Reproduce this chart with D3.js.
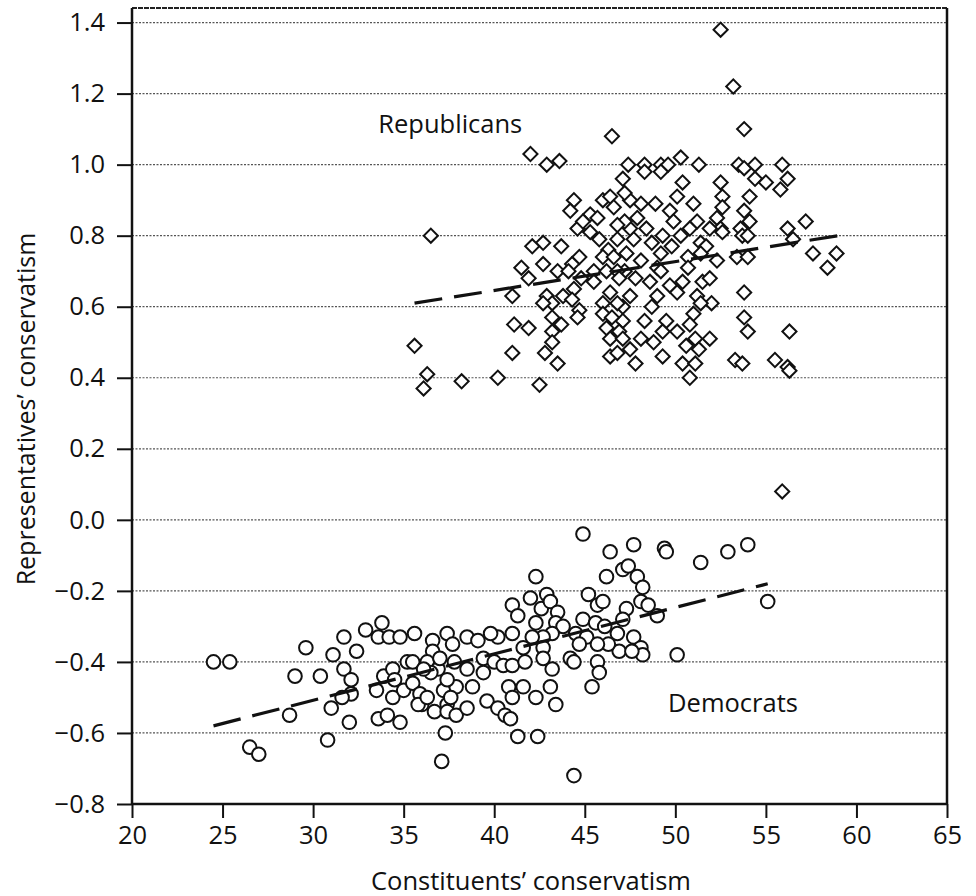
<!DOCTYPE html>
<head>
<meta charset="utf-8">
</head>
<style>
  body { margin: 0; background: #fff; }
  svg text { font-family: "Open Sans", sans-serif; fill: #111; }
  .axis text { font-size: 25.5px; }
  .axis line { stroke: #111; stroke-width: 2; }
  .axis path { display: none; }
  .grid line { stroke: #555; stroke-width: 1.2; stroke-dasharray: 2,1.5; }
</style>
<body>
<script src="https://d3js.org/d3.v7.min.js"></script>
<script>

var xTicks = [20, 25, 30, 35, 40, 45, 50, 55, 60, 65]
var yTicks = [-0.8, -0.6, -0.4, -0.2, 0.0, 0.2, 0.4, 0.6, 0.8, 1.0, 1.2, 1.4]

// [constituents' conservatism, representative's conservatism]
var republicans = [
  [52.5,1.38],[53.2,1.22],[53.8,1.10],[46.5,1.08],[42.0,1.03],[42.9,1.00],[43.6,1.01],[47.4,1.00],
  [48.3,1.00],[49.2,1.00],[49.6,1.00],[50.3,1.02],[51.3,1.00],[53.5,1.00],[53.8,0.99],[54.4,1.00],
  [55.9,1.00],[48.3,0.98],[49.2,0.98],[50.4,0.95],[52.5,0.95],[54.4,0.96],[55.0,0.95],[56.2,0.96],
  [55.8,0.93],[50.1,0.91],[52.6,0.91],[54.1,0.91],[48.9,0.89],[51.0,0.89],[48.1,0.89],[47.5,0.90],
  [47.2,0.92],[47.1,0.96],[49.7,0.87],[52.6,0.88],[53.8,0.87],[52.3,0.85],[49.9,0.84],[51.2,0.84],
  [54.1,0.84],[52.5,0.82],[53.6,0.82],[51.9,0.82],[57.2,0.84],[56.2,0.82],[56.5,0.79],[57.6,0.75],
  [58.9,0.75],[58.4,0.71],[49.3,0.80],[50.8,0.82],[51.4,0.78],[52.6,0.81],[53.7,0.80],[54.0,0.80],
  [51.7,0.77],[48.7,0.78],[50.3,0.80],[49.8,0.77],[53.4,0.74],[54.0,0.74],[52.3,0.73],[51.4,0.75],
  [50.7,0.74],[50.7,0.71],[49.0,0.71],[48.1,0.73],[47.3,0.75],[47.7,0.79],[47.5,0.82],[47.9,0.85],
  [47.2,0.84],[48.4,0.82],[49.2,0.75],[49.2,0.70],[48.6,0.67],[49.7,0.66],[50.4,0.67],[51.5,0.67],
  [51.9,0.68],[50.1,0.64],[51.2,0.63],[47.5,0.63],[49.0,0.63],[53.8,0.64],[52.0,0.61],[51.4,0.61],
  [48.7,0.60],[47.1,0.60],[47.8,0.68],[47.2,0.70],[53.8,0.57],[54.0,0.53],[56.3,0.53],[48.3,0.56],
  [49.5,0.56],[51.0,0.58],[50.8,0.55],[49.3,0.53],[50.1,0.53],[51.1,0.51],[51.9,0.51],[47.1,0.56],
  [46.9,0.53],[47.5,0.48],[48.8,0.50],[50.6,0.49],[51.3,0.48],[49.3,0.46],[50.4,0.44],[51.1,0.44],
  [50.8,0.40],[53.3,0.45],[53.7,0.44],[55.5,0.45],[56.2,0.43],[56.3,0.42],[48.1,0.51],[47.8,0.44],
  [44.4,0.90],[44.2,0.87],[46.0,0.90],[46.4,0.91],[46.6,0.88],[45.3,0.86],[45.7,0.85],[44.6,0.82],
  [44.9,0.84],[45.3,0.81],[46.8,0.83],[45.8,0.79],[46.8,0.79],[46.3,0.76],[46.0,0.74],[46.6,0.74],
  [44.7,0.74],[43.7,0.77],[42.7,0.78],[42.1,0.77],[41.5,0.71],[42.7,0.72],[44.3,0.72],[43.5,0.70],
  [41.9,0.68],[44.1,0.70],[45.5,0.70],[44.8,0.68],[46.2,0.70],[46.8,0.70],[46.9,0.68],[45.5,0.67],
  [44.4,0.65],[43.8,0.63],[42.9,0.63],[43.2,0.61],[42.7,0.61],[44.3,0.62],[46.0,0.61],[46.4,0.64],
  [46.8,0.61],[41.0,0.63],[44.7,0.59],[44.6,0.57],[43.2,0.57],[43.2,0.53],[43.7,0.55],[46.0,0.58],
  [46.5,0.57],[46.2,0.54],[41.1,0.55],[41.9,0.54],[46.4,0.51],[47.1,0.51],[43.2,0.50],[42.8,0.47],
  [43.5,0.44],[46.4,0.46],[46.8,0.47],[41.0,0.47],[35.6,0.49],[36.3,0.41],[36.1,0.37],[38.2,0.39],
  [40.2,0.40],[42.5,0.38],[36.5,0.80],[55.9,0.08]
]

var democrats = [
  [24.5,-0.40],[25.4,-0.40],[29.6,-0.36],[29.0,-0.44],[30.4,-0.44],[28.7,-0.55],[26.5,-0.64],[27.0,-0.66],
  [30.8,-0.62],[31.0,-0.53],[31.1,-0.38],[31.7,-0.33],[32.4,-0.37],[32.9,-0.31],[33.8,-0.29],[33.6,-0.33],
  [34.2,-0.33],[34.8,-0.33],[35.6,-0.32],[36.6,-0.34],[36.6,-0.37],[37.4,-0.32],[37.7,-0.35],[38.5,-0.33],
  [31.7,-0.42],[32.1,-0.45],[32.1,-0.49],[31.6,-0.50],[32.0,-0.57],[33.5,-0.48],[33.9,-0.44],[34.4,-0.42],
  [34.5,-0.45],[34.4,-0.50],[35.0,-0.48],[35.5,-0.46],[35.2,-0.40],[35.9,-0.49],[36.0,-0.52],[36.7,-0.54],
  [37.4,-0.52],[37.4,-0.54],[37.9,-0.55],[38.5,-0.53],[33.6,-0.56],[34.1,-0.55],[34.8,-0.57],[37.3,-0.60],
  [37.1,-0.68],[36.3,-0.40],[36.9,-0.42],[37.2,-0.48],[37.9,-0.47],[37.8,-0.40],[38.5,-0.42],[37.4,-0.45],
  [36.5,-0.43],[44.9,-0.04],[46.4,-0.09],[47.7,-0.07],[49.4,-0.08],[49.5,-0.09],[51.4,-0.12],[47.1,-0.14],
  [47.4,-0.13],[46.2,-0.16],[47.9,-0.16],[48.2,-0.19],[42.3,-0.16],[45.2,-0.21],[45.7,-0.24],[46.0,-0.23],
  [42.9,-0.21],[42.0,-0.22],[41.0,-0.24],[41.3,-0.27],[42.6,-0.25],[43.1,-0.23],[43.5,-0.26],[42.3,-0.29],
  [43.4,-0.29],[43.8,-0.30],[44.9,-0.28],[45.6,-0.29],[46.1,-0.30],[44.5,-0.32],[45.1,-0.33],[47.3,-0.25],
  [48.1,-0.23],[48.5,-0.24],[47.1,-0.28],[49.0,-0.27],[47.7,-0.33],[48.1,-0.36],[48.2,-0.38],[50.1,-0.38],
  [46.8,-0.32],[46.9,-0.37],[46.3,-0.35],[45.7,-0.35],[45.7,-0.40],[45.8,-0.43],[44.7,-0.35],[44.2,-0.39],
  [44.4,-0.40],[43.2,-0.32],[42.7,-0.33],[42.7,-0.36],[42.7,-0.39],[42.1,-0.33],[41.6,-0.36],[41.0,-0.32],
  [40.2,-0.33],[39.8,-0.32],[39.1,-0.34],[37.0,-0.39],[39.4,-0.39],[40.0,-0.40],[40.5,-0.41],[41.0,-0.41],
  [41.7,-0.40],[39.4,-0.43],[38.8,-0.47],[40.8,-0.47],[41.0,-0.50],[41.6,-0.47],[42.3,-0.50],[43.2,-0.42],
  [43.1,-0.47],[43.4,-0.52],[39.6,-0.51],[40.2,-0.53],[40.6,-0.55],[40.9,-0.56],[41.3,-0.61],[42.4,-0.61],
  [45.4,-0.47],[44.4,-0.72],[47.6,-0.37],[52.9,-0.09],[54.0,-0.07],[55.1,-0.23],[35.5,-0.40],[36.1,-0.42],
  [35.8,-0.52],[37.6,-0.50],[36.3,-0.50]
]

// fitted lines, end points
var repFit = [[35.6, 0.61], [59.0, 0.80]]
var demFit = [[24.5, -0.58], [55.1, -0.18]]

var margin = {top: 8, right: 29, bottom: 92, left: 132},
    width = 976 - margin.left - margin.right,
    height = 896 - margin.top - margin.bottom

var x = d3.scaleLinear().domain([20, 65]).range([0, width])
var y = d3.scaleLinear().domain([-0.8, 1.441]).range([height, 0])

var svg = d3.select("body").append("svg")
    .attr("width", 976)
    .attr("height", 896)
  .append("g")
    .attr("transform", "translate(" + margin.left + "," + margin.top + ")")

// dotted grid
svg.append("g")
    .attr("class", "grid")
  .selectAll("line")
    .data(yTicks.filter(function(d) { return d > -0.8 }))
  .enter().append("line")
    .attr("x1", 0)
    .attr("x2", width)
    .attr("y1", function(d) { return y(d) })
    .attr("y2", function(d) { return y(d) })

// frame
svg.append("line").attr("x1", 0).attr("x2", width).attr("y1", 0).attr("y2", 0)
    .attr("stroke", "#222").attr("stroke-width", 2).attr("stroke-dasharray", "5,1")
svg.append("line").attr("x1", 0).attr("x2", 0).attr("y1", 0).attr("y2", height)
    .attr("stroke", "#111").attr("stroke-width", 2.5)
svg.append("line").attr("x1", width).attr("x2", width).attr("y1", 0).attr("y2", height)
    .attr("stroke", "#111").attr("stroke-width", 2.5)
svg.append("line").attr("x1", 0).attr("x2", width).attr("y1", height).attr("y2", height)
    .attr("stroke", "#111").attr("stroke-width", 2.5)

svg.append("g")
    .attr("class", "x axis")
    .attr("transform", "translate(0," + height + ")")
    .call(d3.axisBottom(x).tickValues(xTicks).tickSize(14).tickPadding(8))

svg.append("g")
    .attr("class", "y axis")
    .call(d3.axisLeft(y).tickValues(yTicks).tickSize(15).tickPadding(12).tickFormat(d3.format(".1f")))

// points
var diamond = d3.symbol().type(d3.symbolSquare).size(100)

svg.append("g").selectAll("path")
    .data(republicans)
  .enter().append("path")
    .attr("d", diamond)
    .attr("transform", function(d) { return "translate(" + x(d[0]) + "," + y(d[1]) + ") rotate(45)" })
    .attr("fill", "#fff")
    .attr("stroke", "#111")
    .attr("stroke-width", 2)

svg.append("g").selectAll("circle")
    .data(democrats)
  .enter().append("circle")
    .attr("cx", function(d) { return x(d[0]) })
    .attr("cy", function(d) { return y(d[1]) })
    .attr("r", 6.8)
    .attr("fill", "#fff")
    .attr("stroke", "#111")
    .attr("stroke-width", 2)

// fitted lines
var line = d3.line().x(function(d) { return x(d[0]) }).y(function(d) { return y(d[1]) })

svg.selectAll(".fit")
    .data([repFit, demFit])
  .enter().append("path")
    .attr("class", "fit")
    .attr("d", line)
    .attr("fill", "none")
    .attr("stroke", "#111")
    .attr("stroke-width", 3.2)
    .attr("stroke-dasharray", "28,12")

// group labels
svg.append("text")
    .attr("x", x(33.6))
    .attr("y", y(1.089))
    .style("font-size", "25.5px")
    .text("Republicans")

svg.append("text")
    .attr("x", x(49.6))
    .attr("y", y(-0.54))
    .style("font-size", "25.5px")
    .text("Democrats")

// axis titles
svg.append("text")
    .attr("x", 531 - margin.left)
    .attr("y", height + 86)
    .style("text-anchor", "middle")
    .style("font-size", "25.5px")
    .text("Constituents\u2019 conservatism")

svg.append("text")
    .attr("transform", "rotate(-90)")
    .attr("x", -(409 - margin.top))
    .attr("y", -97)
    .style("text-anchor", "middle")
    .style("font-size", "25px")
    .text("Representatives\u2019 conservatism")

</script>
</body>
